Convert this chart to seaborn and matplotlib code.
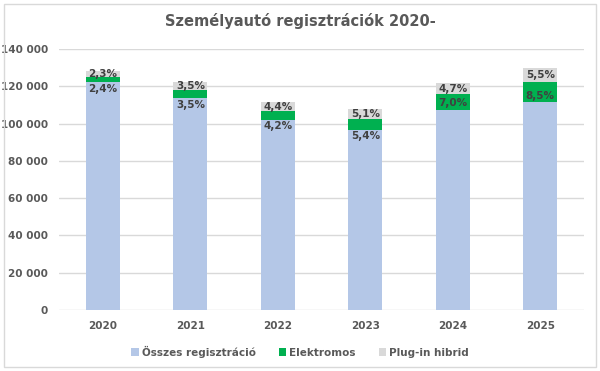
import matplotlib
matplotlib.use("Agg")
import matplotlib.pyplot as plt
import seaborn as sns
import pandas as pd
import numpy as np
from matplotlib.patches import Rectangle
from matplotlib.ticker import FuncFormatter

# adatok
years = ['2020', '2021', '2022', '2023', '2024', '2025']
osszes = [122200, 113700, 102000, 96700, 107400, 111500]
elektromos = [3000, 4300, 4700, 5800, 8500, 11000]
plugin = [3000, 4300, 4900, 5500, 5700, 7100]
elektromos_pct = ['2,4%', '3,5%', '4,2%', '5,4%', '7,0%', '8,5%']
plugin_pct = ['2,3%', '3,5%', '4,4%', '5,1%', '4,7%', '5,5%']

df = pd.DataFrame({'ev': years, 'osszes': osszes, 'elektromos': elektromos, 'plugin': plugin})

sns.set_style('white')
plt.rcParams['font.family'] = ['DejaVu Sans']

szurke = '#595959'
sotet = '#404040'
fig = plt.figure(figsize=(6, 3.71), dpi=100)
ax = fig.add_axes([0.0985, 0.1644, 0.875, 0.7035])

w = 0.39
sns.barplot(data=df, x='ev', y='osszes', color='#b4c7e7', width=w, ax=ax,
            label='Összes regisztráció', saturation=1, linewidth=0)
sns.barplot(data=df, x='ev', y='elektromos', color='#00b050', width=w, ax=ax,
            bottom=df['osszes'], label='Elektromos', saturation=1, linewidth=0)
sns.barplot(data=df, x='ev', y='plugin', color='#d9d9d9', width=w, ax=ax,
            bottom=df['osszes'] + df['elektromos'], label='Plug-in hibrid', saturation=1,
            linewidth=0)
if ax.get_legend() is not None:
    ax.get_legend().remove()

ax.set_ylim(0, 140000)
ax.set_xlim(-0.5, 5.5)
ax.set_yticks(range(0, 140001, 20000))
ax.yaxis.set_major_formatter(FuncFormatter(lambda v, p: f'{int(v):,}'.replace(',', ' ')))
ax.grid(axis='y', color='#d9d9d9', linewidth=1)
ax.set_axisbelow(True)
for s in ax.spines.values():
    s.set_visible(False)
ax.tick_params(axis='both', length=0, labelsize=7.5, labelcolor=szurke, pad=8)
for t in ax.get_xticklabels() + ax.get_yticklabels():
    t.set_fontweight('bold')
ax.set_xlabel('')
ax.set_ylabel('')

# címkék
px = 140000 / (0.7035 * 371)
for i in range(len(years)):
    g0 = osszes[i]
    g1 = g0 + elektromos[i]
    top = g1 + plugin[i]
    if elektromos[i] < 12 * px:
        ax.text(i, g0 - 1.5 * px, elektromos_pct[i], ha='center', va='top',
                fontsize=7.5, fontweight='bold', color=sotet)
    else:
        ax.text(i, g0 + 1.5 * px, elektromos_pct[i], ha='center', va='bottom',
                fontsize=7.5, fontweight='bold', color=sotet)
    ax.text(i, (g1 + top) / 2, plugin_pct[i], ha='center', va='center',
            fontsize=7.5, fontweight='bold', color=sotet)

fig.suptitle('Személyautó regisztrációk 2020-', x=0.5, y=0.965, fontsize=10.5,
             fontweight='bold', color=szurke)

h, l = ax.get_legend_handles_labels()
leg = fig.legend(h, l, loc='center', bbox_to_anchor=(0.5, 0.052), ncol=3, frameon=False,
                 fontsize=7.5, handlelength=0.7, handleheight=0.7, handletextpad=0.3,
                 columnspacing=2.2)
for t in leg.get_texts():
    t.set_color(szurke)
    t.set_fontweight('bold')

fig.patches.append(Rectangle((0.006, 0.012), 0.988, 0.978, transform=fig.transFigure,
                             fill=False, edgecolor='#d9d9d9', linewidth=1))

fig.savefig('out.png', dpi=100)
